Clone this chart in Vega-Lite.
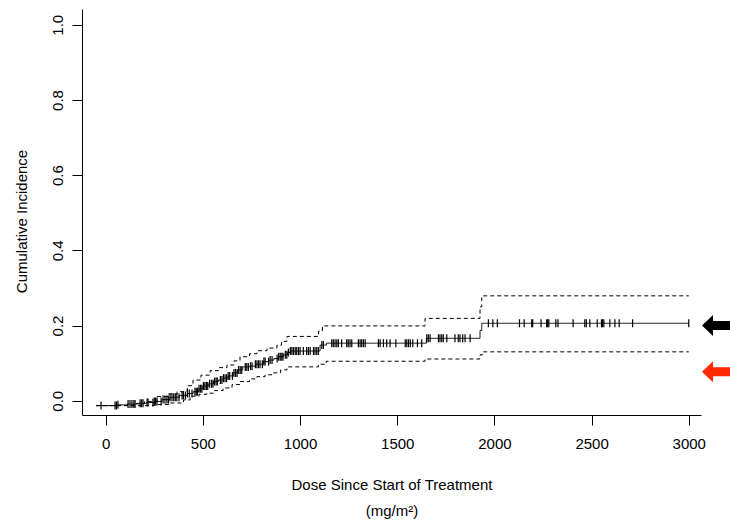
{
  "$schema": "https://vega.github.io/schema/vega-lite/v6.json",
  "autosize": {"type": "none"},
  "width": 619,
  "height": 406,
  "padding": {"left": 82, "top": 9, "right": 29, "bottom": 107},
  "background": "white",
  "config": {
    "view": {"stroke": null},
    "font": "Liberation Sans",
    "axis": {
      "grid": false,
      "domainColor": "black",
      "domainWidth": 1,
      "tickColor": "black",
      "tickWidth": 1,
      "tickSize": 10,
      "labelColor": "black",
      "labelFont": "Liberation Sans",
      "labelFontSize": 15,
      "labelFlush": false,
      "labelOverlap": false,
      "titleColor": "black",
      "titleFont": "Liberation Sans",
      "titleFontSize": 15,
      "titleFontWeight": "normal"
    }
  },
  "datasets": {
    "curve": [
      {"dose": -50, "ci": -0.013, "series": "estimate"},
      {"dose": 60, "ci": -0.011, "series": "estimate"},
      {"dose": 110, "ci": -0.009, "series": "estimate"},
      {"dose": 160, "ci": -0.007, "series": "estimate"},
      {"dose": 210, "ci": -0.005, "series": "estimate"},
      {"dose": 250, "ci": -0.002, "series": "estimate"},
      {"dose": 290, "ci": 0.003, "series": "estimate"},
      {"dose": 330, "ci": 0.009, "series": "estimate"},
      {"dose": 380, "ci": 0.014, "series": "estimate"},
      {"dose": 420, "ci": 0.019, "series": "estimate"},
      {"dose": 450, "ci": 0.024, "series": "estimate"},
      {"dose": 480, "ci": 0.032, "series": "estimate"},
      {"dose": 500, "ci": 0.039, "series": "estimate"},
      {"dose": 530, "ci": 0.045, "series": "estimate"},
      {"dose": 555, "ci": 0.051, "series": "estimate"},
      {"dose": 580, "ci": 0.055, "series": "estimate"},
      {"dose": 605, "ci": 0.06, "series": "estimate"},
      {"dose": 630, "ci": 0.066, "series": "estimate"},
      {"dose": 655, "ci": 0.074, "series": "estimate"},
      {"dose": 680, "ci": 0.082, "series": "estimate"},
      {"dose": 705, "ci": 0.09, "series": "estimate"},
      {"dose": 740, "ci": 0.092, "series": "estimate"},
      {"dose": 770, "ci": 0.097, "series": "estimate"},
      {"dose": 810, "ci": 0.104, "series": "estimate"},
      {"dose": 840, "ci": 0.108, "series": "estimate"},
      {"dose": 865, "ci": 0.112, "series": "estimate"},
      {"dose": 890, "ci": 0.117, "series": "estimate"},
      {"dose": 915, "ci": 0.122, "series": "estimate"},
      {"dose": 935, "ci": 0.128, "series": "estimate"},
      {"dose": 950, "ci": 0.132, "series": "estimate"},
      {"dose": 1103, "ci": 0.148, "series": "estimate"},
      {"dose": 1135, "ci": 0.153, "series": "estimate"},
      {"dose": 1650, "ci": 0.166, "series": "estimate"},
      {"dose": 1926, "ci": 0.187, "series": "estimate"},
      {"dose": 1935, "ci": 0.206, "series": "estimate"},
      {"dose": 3000, "ci": 0.206, "series": "estimate"},

      {"dose": -50, "ci": -0.013, "series": "upper"},
      {"dose": 150, "ci": -0.008, "series": "upper"},
      {"dose": 200, "ci": -0.002, "series": "upper"},
      {"dose": 264, "ci": 0.011, "series": "upper"},
      {"dose": 320, "ci": 0.018, "series": "upper"},
      {"dose": 367, "ci": 0.024, "series": "upper"},
      {"dose": 420, "ci": 0.04, "series": "upper"},
      {"dose": 449, "ci": 0.055, "series": "upper"},
      {"dose": 490, "ci": 0.068, "series": "upper"},
      {"dose": 537, "ci": 0.08, "series": "upper"},
      {"dose": 580, "ci": 0.088, "series": "upper"},
      {"dose": 624, "ci": 0.095, "series": "upper"},
      {"dose": 660, "ci": 0.106, "series": "upper"},
      {"dose": 691, "ci": 0.117, "series": "upper"},
      {"dose": 740, "ci": 0.125, "series": "upper"},
      {"dose": 778, "ci": 0.133, "series": "upper"},
      {"dose": 830, "ci": 0.14, "series": "upper"},
      {"dose": 881, "ci": 0.148, "series": "upper"},
      {"dose": 905, "ci": 0.158, "series": "upper"},
      {"dose": 933, "ci": 0.171, "series": "upper"},
      {"dose": 1095, "ci": 0.185, "series": "upper"},
      {"dose": 1115, "ci": 0.199, "series": "upper"},
      {"dose": 1643, "ci": 0.219, "series": "upper"},
      {"dose": 1926, "ci": 0.25, "series": "upper"},
      {"dose": 1935, "ci": 0.279, "series": "upper"},
      {"dose": 3000, "ci": 0.279, "series": "upper"},

      {"dose": -50, "ci": -0.013, "series": "lower"},
      {"dose": 250, "ci": -0.01, "series": "lower"},
      {"dose": 330, "ci": -0.006, "series": "lower"},
      {"dose": 400, "ci": 0.002, "series": "lower"},
      {"dose": 434, "ci": 0.012, "series": "lower"},
      {"dose": 480, "ci": 0.017, "series": "lower"},
      {"dose": 520, "ci": 0.02, "series": "lower"},
      {"dose": 560, "ci": 0.027, "series": "lower"},
      {"dose": 604, "ci": 0.034, "series": "lower"},
      {"dose": 650, "ci": 0.043, "series": "lower"},
      {"dose": 691, "ci": 0.051, "series": "lower"},
      {"dose": 740, "ci": 0.058, "series": "lower"},
      {"dose": 778, "ci": 0.064, "series": "lower"},
      {"dose": 820, "ci": 0.069, "series": "lower"},
      {"dose": 861, "ci": 0.074, "series": "lower"},
      {"dose": 900, "ci": 0.082, "series": "lower"},
      {"dose": 933, "ci": 0.09, "series": "lower"},
      {"dose": 1094, "ci": 0.097, "series": "lower"},
      {"dose": 1135, "ci": 0.105, "series": "lower"},
      {"dose": 1643, "ci": 0.111, "series": "lower"},
      {"dose": 1926, "ci": 0.122, "series": "lower"},
      {"dose": 1940, "ci": 0.13, "series": "lower"},
      {"dose": 3000, "ci": 0.13, "series": "lower"}
    ],
    "censor": [
      {"dose": -24, "ci": -0.013}, {"dose": 48, "ci": -0.013}, {"dose": 55, "ci": -0.013}, {"dose": 63, "ci": -0.011},
      {"dose": 115, "ci": -0.009}, {"dose": 125, "ci": -0.009}, {"dose": 135, "ci": -0.009}, {"dose": 145, "ci": -0.009}, {"dose": 151, "ci": -0.009},
      {"dose": 177, "ci": -0.007}, {"dose": 185, "ci": -0.007}, {"dose": 192, "ci": -0.007},
      {"dose": 213, "ci": -0.005}, {"dose": 218, "ci": -0.005}, {"dose": 243, "ci": -0.005},
      {"dose": 250, "ci": -0.002}, {"dose": 257, "ci": -0.002}, {"dose": 264, "ci": -0.002}, {"dose": 285, "ci": -0.002},
      {"dose": 295, "ci": 0.003}, {"dose": 305, "ci": 0.003}, {"dose": 315, "ci": 0.003}, {"dose": 323, "ci": 0.003},
      {"dose": 331, "ci": 0.009}, {"dose": 341, "ci": 0.009}, {"dose": 350, "ci": 0.009}, {"dose": 358, "ci": 0.009}, {"dose": 366, "ci": 0.009}, {"dose": 377, "ci": 0.009},
      {"dose": 393, "ci": 0.014}, {"dose": 400, "ci": 0.014}, {"dose": 410, "ci": 0.014},
      {"dose": 420, "ci": 0.019}, {"dose": 430, "ci": 0.019}, {"dose": 444, "ci": 0.019},
      {"dose": 459, "ci": 0.024}, {"dose": 466, "ci": 0.024}, {"dose": 472, "ci": 0.024},
      {"dose": 480, "ci": 0.032}, {"dose": 488, "ci": 0.032}, {"dose": 495, "ci": 0.032},
      {"dose": 503, "ci": 0.039}, {"dose": 510, "ci": 0.039}, {"dose": 518, "ci": 0.039}, {"dose": 525, "ci": 0.039},
      {"dose": 535, "ci": 0.045}, {"dose": 545, "ci": 0.045}, {"dose": 552, "ci": 0.045},
      {"dose": 560, "ci": 0.051}, {"dose": 568, "ci": 0.051}, {"dose": 574, "ci": 0.051},
      {"dose": 590, "ci": 0.055}, {"dose": 598, "ci": 0.055},
      {"dose": 606, "ci": 0.06}, {"dose": 614, "ci": 0.06}, {"dose": 622, "ci": 0.06},
      {"dose": 630, "ci": 0.066}, {"dose": 638, "ci": 0.066}, {"dose": 652, "ci": 0.066},
      {"dose": 660, "ci": 0.074}, {"dose": 668, "ci": 0.074}, {"dose": 676, "ci": 0.074},
      {"dose": 684, "ci": 0.082}, {"dose": 692, "ci": 0.082}, {"dose": 700, "ci": 0.082},
      {"dose": 718, "ci": 0.09}, {"dose": 726, "ci": 0.09}, {"dose": 734, "ci": 0.09},
      {"dose": 745, "ci": 0.092}, {"dose": 753, "ci": 0.092},
      {"dose": 770, "ci": 0.097}, {"dose": 778, "ci": 0.097}, {"dose": 786, "ci": 0.097}, {"dose": 794, "ci": 0.097}, {"dose": 806, "ci": 0.097},
      {"dose": 814, "ci": 0.104}, {"dose": 820, "ci": 0.104}, {"dose": 838, "ci": 0.104},
      {"dose": 846, "ci": 0.108}, {"dose": 856, "ci": 0.108},
      {"dose": 882, "ci": 0.112},
      {"dose": 890, "ci": 0.117}, {"dose": 898, "ci": 0.117}, {"dose": 906, "ci": 0.117}, {"dose": 912, "ci": 0.117},
      {"dose": 924, "ci": 0.122}, {"dose": 932, "ci": 0.122},
      {"dose": 940, "ci": 0.128},
      {"dose": 950, "ci": 0.132}, {"dose": 958, "ci": 0.132}, {"dose": 966, "ci": 0.132}, {"dose": 975, "ci": 0.132}, {"dose": 983, "ci": 0.132}, {"dose": 992, "ci": 0.132}, {"dose": 1000, "ci": 0.132}, {"dose": 1017, "ci": 0.132}, {"dose": 1034, "ci": 0.132}, {"dose": 1043, "ci": 0.132}, {"dose": 1052, "ci": 0.132}, {"dose": 1069, "ci": 0.132}, {"dose": 1077, "ci": 0.132}, {"dose": 1086, "ci": 0.132}, {"dose": 1094, "ci": 0.132},
      {"dose": 1112, "ci": 0.148}, {"dose": 1120, "ci": 0.148},
      {"dose": 1163, "ci": 0.153}, {"dose": 1171, "ci": 0.153}, {"dose": 1180, "ci": 0.153}, {"dose": 1189, "ci": 0.153}, {"dose": 1197, "ci": 0.153}, {"dose": 1214, "ci": 0.153}, {"dose": 1240, "ci": 0.153}, {"dose": 1248, "ci": 0.153}, {"dose": 1257, "ci": 0.153}, {"dose": 1266, "ci": 0.153}, {"dose": 1300, "ci": 0.153}, {"dose": 1309, "ci": 0.153}, {"dose": 1317, "ci": 0.153}, {"dose": 1326, "ci": 0.153}, {"dose": 1335, "ci": 0.153}, {"dose": 1403, "ci": 0.153}, {"dose": 1412, "ci": 0.153}, {"dose": 1429, "ci": 0.153}, {"dose": 1446, "ci": 0.153}, {"dose": 1463, "ci": 0.153}, {"dose": 1493, "ci": 0.153}, {"dose": 1541, "ci": 0.153}, {"dose": 1549, "ci": 0.153}, {"dose": 1558, "ci": 0.153}, {"dose": 1567, "ci": 0.153}, {"dose": 1580, "ci": 0.153}, {"dose": 1604, "ci": 0.153}, {"dose": 1626, "ci": 0.153},
      {"dose": 1652, "ci": 0.166}, {"dose": 1660, "ci": 0.166}, {"dose": 1669, "ci": 0.166}, {"dose": 1712, "ci": 0.166}, {"dose": 1720, "ci": 0.166}, {"dose": 1729, "ci": 0.166}, {"dose": 1737, "ci": 0.166}, {"dose": 1755, "ci": 0.166}, {"dose": 1797, "ci": 0.166}, {"dose": 1814, "ci": 0.166}, {"dose": 1823, "ci": 0.166}, {"dose": 1837, "ci": 0.166}, {"dose": 1849, "ci": 0.166}, {"dose": 1875, "ci": 0.166},
      {"dose": 1969, "ci": 0.206}, {"dose": 1992, "ci": 0.206}, {"dose": 2015, "ci": 0.206}, {"dose": 2129, "ci": 0.206}, {"dose": 2153, "ci": 0.206}, {"dose": 2192, "ci": 0.206}, {"dose": 2197, "ci": 0.206}, {"dose": 2240, "ci": 0.206}, {"dose": 2269, "ci": 0.206}, {"dose": 2274, "ci": 0.206}, {"dose": 2280, "ci": 0.206}, {"dose": 2316, "ci": 0.206}, {"dose": 2327, "ci": 0.206}, {"dose": 2405, "ci": 0.206}, {"dose": 2465, "ci": 0.206}, {"dose": 2473, "ci": 0.206}, {"dose": 2491, "ci": 0.206}, {"dose": 2529, "ci": 0.206}, {"dose": 2551, "ci": 0.206}, {"dose": 2556, "ci": 0.206}, {"dose": 2563, "ci": 0.206}, {"dose": 2594, "ci": 0.206}, {"dose": 2620, "ci": 0.206}, {"dose": 2642, "ci": 0.206}, {"dose": 2711, "ci": 0.206}, {"dose": 3000, "ci": 0.206}
    ],
    "arrows": [
      {"dose": 3140, "ci": 0.2, "event": "event 1"},
      {"dose": 3140, "ci": 0.077, "event": "event 2"}
    ]
  },
  "encoding": {
    "x": {
      "field": "dose",
      "type": "quantitative",
      "scale": {"domain": [-122, 3063], "nice": false, "zero": false},
      "axis": {
        "values": [0, 500, 1000, 1500, 2000, 2500, 3000],
        "format": "d",
        "labelPadding": 11,
        "title": ["Dose Since Start of Treatment", "(mg/m²)"],
        "titleLineHeight": 26,
        "titleY": 62,
        "titleBaseline": "top",
        "titleAlign": "center"
      }
    },
    "y": {
      "field": "ci",
      "type": "quantitative",
      "scale": {"domain": [-0.038, 1.042], "nice": false, "zero": false},
      "axis": {
        "values": [0, 0.2, 0.4, 0.6, 0.8, 1.0],
        "format": ".1f",
        "labelAngle": -90,
        "labelAlign": "center",
        "labelBaseline": "bottom",
        "labelPadding": 7,
        "title": "Cumulative Incidence",
        "titleAngle": -90,
        "titleX": -56,
        "titleY": 212,
        "titleAlign": "center",
        "titleBaseline": "alphabetic"
      }
    }
  },
  "layer": [
    {
      "data": {"name": "curve"},
      "mark": {"type": "line", "interpolate": "step-after", "color": "black", "strokeWidth": 1},
      "encoding": {
        "detail": {"field": "series", "type": "nominal"},
        "strokeDash": {
          "field": "series",
          "type": "nominal",
          "scale": {"domain": ["estimate", "upper", "lower"], "range": [[1, 0], [4, 3], [4, 3]]},
          "legend": null
        }
      }
    },
    {
      "data": {"name": "censor"},
      "mark": {"type": "tick", "orient": "vertical", "color": "black", "opacity": 1, "thickness": 1.2, "size": 8}
    },
    {
      "data": {"name": "arrows"},
      "mark": {
        "type": "point",
        "filled": true,
        "opacity": 1,
        "size": 784,
        "strokeWidth": 0,
        "shape": "M -1 0 L -0.21 -0.75 L -0.21 -0.32 L 1.8 -0.32 L 1.8 0.32 L -0.21 0.32 L -0.21 0.75 Z"
      },
      "encoding": {
        "color": {
          "field": "event",
          "type": "nominal",
          "scale": {"domain": ["event 1", "event 2"], "range": ["#000000", "#ff2a00"]},
          "legend": null
        }
      }
    }
  ]
}
